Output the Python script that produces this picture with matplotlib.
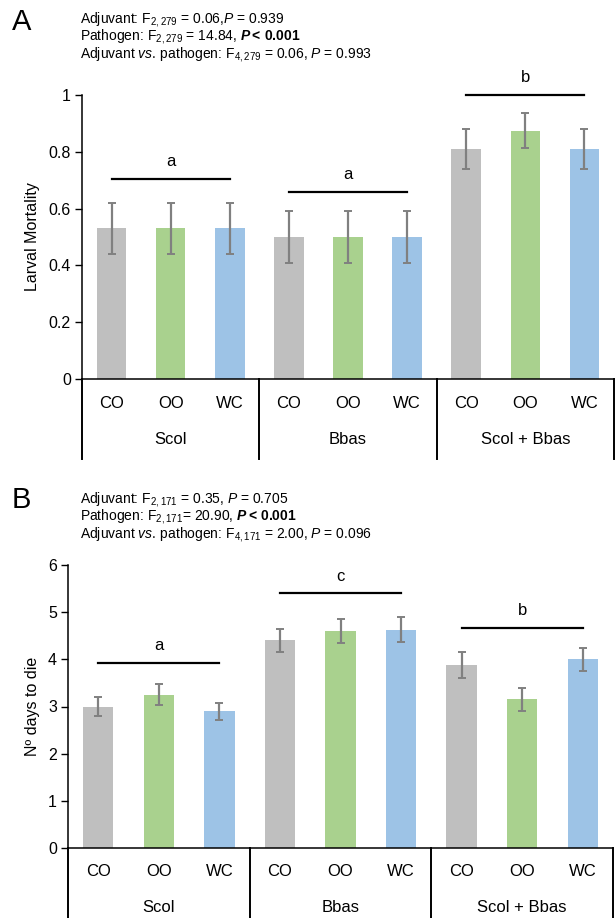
import numpy as np
import matplotlib.pyplot as plt

plt.rcParams['font.family'] = ['Liberation Sans', 'DejaVu Sans']
plt.rcParams['mathtext.fontset'] = 'custom'
plt.rcParams['mathtext.rm'] = 'Liberation Sans'
plt.rcParams['mathtext.it'] = 'Liberation Sans:italic'
plt.rcParams['mathtext.bf'] = 'Liberation Sans:bold'
plt.rcParams['mathtext.bfit'] = 'Liberation Sans:bold:italic'

adjuvants = ['CO', 'OO', 'WC']
pathogens = ['Scol', 'Bbas', 'Scol + Bbas']
colors = ['#bfbfbf', '#a9d18e', '#9dc3e6']

# panel A: larval mortality
mort = [0.53, 0.53, 0.53, 0.50, 0.50, 0.50, 0.81, 0.875, 0.81]
mort_err = [0.09, 0.09, 0.09, 0.09, 0.09, 0.09, 0.07, 0.063, 0.07]
mort_letters = ['a', 'a', 'b']
mort_line_y = [0.705, 0.658, 1.0]

# panel B: days to die
days = [3.0, 3.25, 2.9, 4.4, 4.6, 4.63, 3.88, 3.15, 4.0]
days_err = [0.2, 0.22, 0.18, 0.24, 0.25, 0.27, 0.27, 0.25, 0.24]
days_letters = ['a', 'c', 'b']
days_line_y = [3.92, 5.40, 4.66]

stats_a = [r'Adjuvant: F$_{2,279}$ = 0.06,$\it{P}$ = 0.939',
           r'Pathogen: F$_{2,279}$ = 14.84, $\mathbfit{P}\mathbf{{<}\,0.001}$',
           r'Adjuvant $\it{vs.}\,$pathogen: F$_{4,279}$ = 0.06, $\it{P}$ = 0.993']
stats_b = [r'Adjuvant: F$_{2,171}$ = 0.35, $\it{P}$ = 0.705',
           r'Pathogen: F$_{2,171}$= 20.90, $\mathbfit{P}\mathbf{{<}\,0.001}$',
           r'Adjuvant $\it{vs.}\,$pathogen: F$_{4,171}$ = 2.00, $\it{P}$ = 0.096']

W, H = 616, 918
fig = plt.figure(figsize=(W / 100, H / 100), dpi=100)


def px_axes(left, right, top, bottom):
    return fig.add_axes([left / W, 1 - bottom / H, (right - left) / W, (bottom - top) / H])


def draw_panel(ax, vals, errs, letters, line_y, ymax, ystep, ylabel, fmt, axh_px):
    x = np.arange(9)
    ax.bar(x, vals, width=0.5, color=colors * 3, zorder=2)
    ax.errorbar(x, vals, yerr=errs, fmt='none', ecolor='#808080',
                elinewidth=1.6, capsize=3, capthick=1.4, zorder=3)
    ax.set_xlim(-0.5, 8.5)
    ax.set_ylim(0, ymax)
    ax.set_yticks(np.arange(0, ymax + ystep / 2, ystep))
    ax.set_yticklabels([fmt(v) for v in np.arange(0, ymax + ystep / 2, ystep)])
    ax.tick_params(axis='y', direction='out', length=5, width=1, labelsize=11.5, pad=3)
    ax.set_xticks([])
    for s in ['top', 'right']:
        ax.spines[s].set_visible(False)
    ax.spines['left'].set_linewidth(1.1)
    ax.spines['bottom'].set_linewidth(1.1)
    ax.set_ylabel(ylabel, fontsize=11.5, labelpad=6)

    # significance lines
    for g in range(3):
        ax.plot([3 * g, 3 * g + 2], [line_y[g]] * 2, color='black', lw=1.6,
                clip_on=False, zorder=4)
        ax.annotate(letters[g], (3 * g + 1, line_y[g]), xytext=(0, 7),
                    textcoords='offset points', ha='center', va='bottom',
                    fontsize=12, annotation_clip=False)

    # category table under the axis
    tr = ax.get_xaxis_transform()
    d = 1 / axh_px
    for i in range(9):
        ax.text(i, -24 * d, adjuvants[i % 3], transform=tr, ha='center',
                va='center', fontsize=12)
    for g in range(3):
        ax.text(3 * g + 1, -60 * d, pathogens[g], transform=tr, ha='center',
                va='center', fontsize=12)
    for xb in [-0.5, 2.5, 5.5, 8.5]:
        ax.plot([xb, xb], [0, -80 * d], transform=tr, color='black', lw=1.4,
                clip_on=False)


axA = px_axes(82, 614, 95, 379)
draw_panel(axA, mort, mort_err, mort_letters, mort_line_y, 1.0, 0.2,
           'Larval Mortality', lambda v: '0' if v == 0 else ('1' if v > 0.99 else f'{v:.1f}'), 284)
axB = px_axes(68, 613, 565, 848)
draw_panel(axB, days, days_err, days_letters, days_line_y, 6, 1,
           'Nº days to die', lambda v: f'{v:.0f}', 283)

fig.text(12 / W, 1 - 30 / H, 'A', fontsize=21, ha='left', va='baseline')
fig.text(12 / W, 1 - 508 / H, 'B', fontsize=21, ha='left', va='baseline')
for k, s in enumerate(stats_a):
    fig.text(80 / W, 1 - (23 + 17.5 * k) / H, s, fontsize=10, ha='left', va='baseline')
for k, s in enumerate(stats_b):
    fig.text(80 / W, 1 - (503 + 17.5 * k) / H, s, fontsize=10, ha='left', va='baseline')

fig.savefig('out.png', dpi=100)
